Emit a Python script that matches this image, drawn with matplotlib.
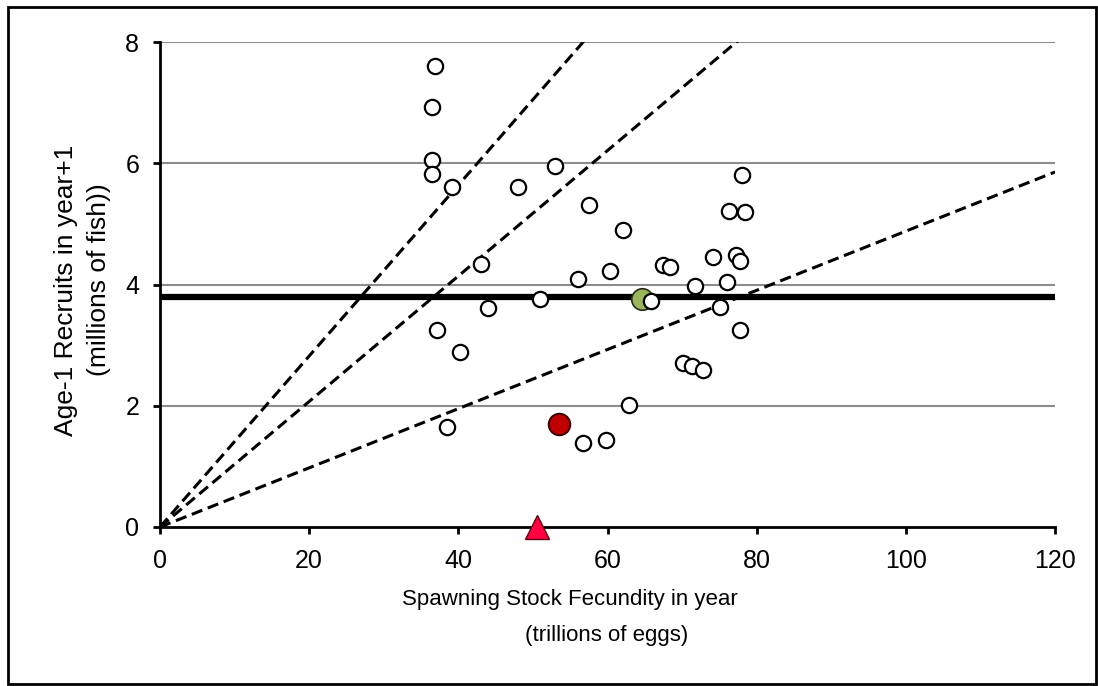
import matplotlib
matplotlib.use("Agg")
import matplotlib.pyplot as plt
import numpy as np
from matplotlib.patches import Rectangle

plt.rcParams['font.family'] = ['Liberation Sans', 'DejaVu Sans']

# Annual stock-recruit observations
ssf = [36.9, 36.5, 36.5, 36.5, 39.2, 48.0, 53.0, 57.5, 62.1, 43.0,
       44.0, 51.0, 56.0, 60.3, 67.4, 68.4, 74.2, 77.2, 77.8, 78.0,
       76.3, 78.4, 71.7, 76.0, 75.1, 65.8, 37.2, 40.2, 77.8, 70.1,
       71.3, 72.8, 62.9, 38.5, 56.7, 59.8]
recruits = [7.60, 6.93, 6.05, 5.82, 5.61, 5.61, 5.95, 5.31, 4.90, 4.34,
            3.61, 3.76, 4.09, 4.22, 4.32, 4.29, 4.45, 4.49, 4.39, 5.81,
            5.21, 5.20, 3.98, 4.04, 3.63, 3.73, 3.25, 2.89, 3.25, 2.71,
            2.66, 2.59, 2.01, 1.65, 1.39, 1.44]

# Highlighted years
green_pt = (64.6, 3.76)
red_pt = (53.5, 1.70)
triangle_x = 50.6

# Median recruitment and replacement lines (recruits per unit fecundity)
median_recruits = 3.8
replacement_slopes = [0.141, 0.1035, 0.0488]

x_ticks = [0, 20, 40, 60, 80, 100, 120]
y_ticks = [0, 2, 4, 6, 8]

fig = plt.figure(figsize=(10.98, 6.86), dpi=100)
ax = fig.add_axes([160 / 1098, 1 - 527 / 686, (1055 - 160) / 1098, (527 - 42) / 686])
ax.set_xlim(0, 120)
ax.set_ylim(0, 8)

# Horizontal gridlines
for yv in y_ticks[1:]:
    ax.axhline(yv, color='#8c8c8c', lw=1.5, zorder=1)

# Replacement lines through the origin
xs = np.linspace(0, 120, 400)
for s in replacement_slopes:
    ax.plot(xs, s * xs, ls='--', color='black', lw=2.2, zorder=2,
            dashes=(3.7, 1.9), clip_on=True)

# Median recruitment
ax.axhline(median_recruits, color='black', lw=4.5, zorder=3)

ax.plot(*green_pt, 'o', ms=15.5, mfc='#9bb55a', mec='#2a2a1a', mew=1.2, zorder=4)
ax.plot(ssf, recruits, 'o', ms=11, mfc='white', mec='black', mew=1.6, zorder=5,
        ls='none')
ax.plot(*red_pt, 'o', ms=15.5, mfc='#c00000', mec='#3a0000', mew=1.4, zorder=5)
ax.plot(triangle_x, 0, '^', ms=17, mfc='#ff0040', mec='#600010', mew=1.0,
        zorder=6, clip_on=False)

for side in ['top', 'right']:
    ax.spines[side].set_visible(False)
for side in ['left', 'bottom']:
    ax.spines[side].set_linewidth(2.0)
    ax.spines[side].set_color('black')

ax.set_xticks(x_ticks)
ax.set_yticks(y_ticks)
ax.tick_params(axis='both', direction='out', length=5, width=2.0,
               labelsize=18, colors='black')
ax.tick_params(axis='y', pad=10)
ax.tick_params(axis='x', pad=11)

# Axis titles
fig.text(570 / 1098, 1 - 600 / 686, 'Spawning Stock Fecundity in year',
         ha='center', va='center', fontsize=16)
fig.text(607 / 1098, 1 - 635 / 686, '(trillions of eggs)',
         ha='center', va='center', fontsize=16)
fig.text(66 / 1098, 1 - 290 / 686, 'Age-1 Recruits in year+1',
         ha='center', va='center', rotation=90, fontsize=19)
fig.text(99 / 1098, 1 - 280 / 686, '(millions of fish))',
         ha='center', va='center', rotation=90, fontsize=19)

# Outer frame
fig.patches.append(Rectangle((8 / 1098, 1 - 684 / 686), (1096 - 8) / 1098,
                             (684 - 7) / 686, transform=fig.transFigure,
                             fill=False, ec='black', lw=2.0))

fig.savefig('out.png', dpi=100, facecolor='white')
